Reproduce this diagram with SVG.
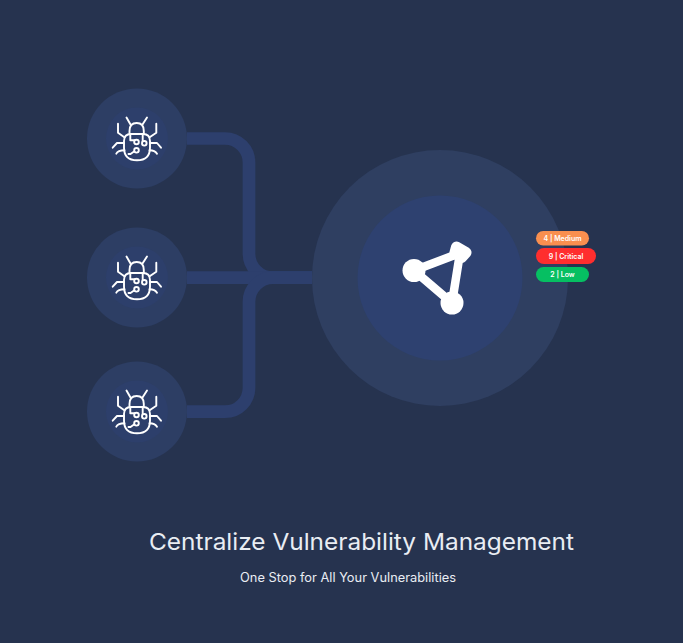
<svg xmlns="http://www.w3.org/2000/svg" width="683" height="643" viewBox="0 0 683 643">
<style>
.wire{fill:none;stroke:#2d3f6d;stroke-width:12.7}
.outer{fill:#2d3e64}
.inner{fill:#2d3f6b}
.bug{fill:none;stroke:#fff;stroke-width:1.900;stroke-linecap:round;stroke-linejoin:round}
.tag{font-family:"Inter","Liberation Sans",sans-serif;font-size:7px;font-weight:600;fill:#fff;text-anchor:middle}
.title{font-family:"Inter","Liberation Sans",sans-serif;fill:#e9edf3}
</style>
<defs>
<g id="bug-icon" class="bug">
<path d="M124 141Q124 134 131 134H143Q150 134 150 141V147.500Q150 160.300 137 160.300Q124 160.300 124 147.500Z"/>
<path d="M129.500 133.500V131Q129.500 123 136.700 123Q143.800 123 143.800 131V133.500"/>
<path d="M130.500 124.500L126.500 117.500M142.500 124.500L147 117.500"/>
<path d="M118 123.700V132.700L124 137M156.300 123.700V132.700L150 137"/>
<path d="M112.700 147.700L117 143H124M161 147.700L157 143H150"/>
<path d="M116.300 153.700Q118 150.300 124.500 150.300M157 153.700Q155 150.300 149.500 150.300"/>
<path d="M130.300 134.300V140.300H134.500M142.700 134V141"/>
<path d="M134 151.500L130.500 154H128.500"/>
<circle cx="136.500" cy="142" r="2.300"/><circle cx="144.300" cy="143.300" r="2.300"/><circle cx="136.500" cy="150.300" r="2.300"/>
</g>
</defs>
<rect width="683" height="643" fill="#26334f"/>
<g id="connectors">
<path class="wire" d="M187 138.500H225A24 24 0 0 1 249 162.500V253.700A24 24 0 0 0 273 277.700H312"/>
<path class="wire" d="M187 277.700H312"/>
<path class="wire" d="M187 411.700H225A24 24 0 0 0 249 387.700V301.700A24 24 0 0 1 273 277.700H312"/>
</g>
<g id="node-bug-1"><circle class="outer" cx="137" cy="138.500" r="50"/><circle class="inner" cx="137" cy="138.500" r="31"/><use href="#bug-icon"/></g>
<g id="node-bug-2"><circle class="outer" cx="137" cy="277.500" r="50"/><circle class="inner" cx="137" cy="277.500" r="31"/><use href="#bug-icon" transform="translate(0,139)"/></g>
<g id="node-bug-3"><circle class="outer" cx="137" cy="411.500" r="50"/><circle class="inner" cx="137" cy="411.500" r="31"/><use href="#bug-icon" transform="translate(0,273)"/></g>
<g id="node-hub">
<circle cx="440" cy="278" r="128" fill="#2f3f61"/>
<circle cx="440" cy="278" r="82.500" fill="#2e4170"/>
<path d="M414 270.500L460 253L452 303Z" fill="none" stroke="#fff" stroke-width="8.500" stroke-linejoin="round"/>
<circle cx="414" cy="270.500" r="11.500" fill="#fff"/>
<circle cx="452" cy="303" r="11.500" fill="#fff"/>
<path d="M456.500 247L466 252.500L461.500 257.500L455 252.500Z" fill="#fff" stroke="#fff" stroke-width="11" stroke-linejoin="round"/>
</g>
<g id="tag-medium"><rect x="536" y="231" width="53" height="14.500" rx="7.200" fill="#f98f4f"/><text class="tag" x="562.500" y="240.500">4 | Medium</text></g>
<g id="tag-critical"><rect x="536" y="248" width="60" height="16" rx="8" fill="#ff2e2e"/><text class="tag" x="566" y="258.500">9 | Critical</text></g>
<g id="tag-low"><rect x="536" y="267" width="53" height="15" rx="7.500" fill="#06bf62"/><text class="tag" x="562.500" y="277">2 | Low</text></g>
<text class="title" x="149" y="550" font-size="23.500" textLength="425" lengthAdjust="spacingAndGlyphs">Centralize Vulnerability Management</text>
<text class="title" x="240" y="582" font-size="12.500" textLength="216" lengthAdjust="spacingAndGlyphs">One Stop for All Your Vulnerabilities</text>
</svg>
